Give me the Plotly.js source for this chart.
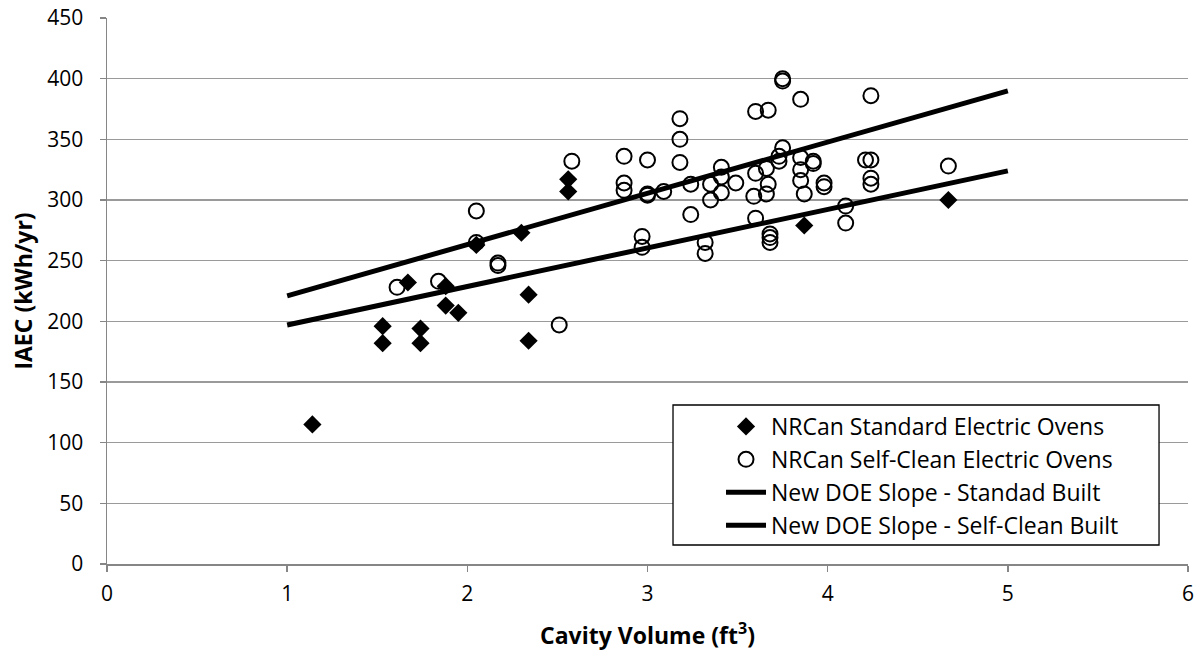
<!DOCTYPE html>
<html>
<head>
<meta charset="utf-8">
<script src="https://cdn.plot.ly/plotly-3.0.1.min.js"></script>
<style>html,body{margin:0;padding:0;background:#fff;}#chart{width:1197px;height:654px;}</style>
</head>
<body>
<div id="chart"></div>
<script>
// NRCan Standard Electric Ovens
const stdVolume = [1.14, 1.53, 1.53, 1.67, 1.74, 1.74, 1.88, 1.88, 1.95, 2.05, 2.30, 2.34, 2.34, 2.56, 2.56, 3.87, 4.67];
const stdIAEC   = [115, 196, 182, 232, 194, 182, 229, 213, 207, 263, 273, 222, 184, 317, 307, 279, 300];

// NRCan Self-Clean Electric Ovens
const scVolume = [1.61, 1.84, 2.05, 2.05, 2.17, 2.17, 2.51, 2.58,
  2.87, 2.87, 2.87, 3.00, 3.00, 3.00, 2.97, 2.97, 3.09,
  3.18, 3.18, 3.18, 3.24, 3.24, 3.32, 3.32, 3.35, 3.35,
  3.41, 3.41, 3.41, 3.49, 3.59, 3.60, 3.60, 3.60, 3.67, 3.66, 3.67, 3.66,
  3.68, 3.68, 3.68, 3.75, 3.75, 3.75, 3.73, 3.73,
  3.85, 3.85, 3.85, 3.85, 3.87, 3.92, 3.92, 3.98, 3.98,
  4.10, 4.10, 4.21, 4.24, 4.24, 4.24, 4.24, 4.67];
const scIAEC = [228, 233, 291, 265, 248, 246, 197, 332,
  336, 314, 308, 333, 305, 304, 270, 261, 307,
  367, 350, 331, 313, 288, 265, 256, 313, 300,
  327, 319, 306, 314, 303, 373, 322, 285, 374, 326, 313, 305,
  272, 269, 265, 400, 398, 343, 336, 332,
  383, 335, 325, 316, 305, 332, 330, 314, 311,
  295, 281, 333, 386, 333, 318, 313, 328];

// DOE slope lines
const lineVolume = [1, 5];
const stdBuiltIAEC = [221, 390];
const scBuiltIAEC  = [197, 324];

const FONT = '"Open Sans", "Noto Sans", sans-serif';

const traces = [
  {x: stdVolume, y: stdIAEC, type: 'scatter', mode: 'markers', name: 'NRCan Standard Electric Ovens',
   marker: {symbol: 'diamond', size: 14, color: '#000', line: {width: 0}}},
  {x: scVolume, y: scIAEC, type: 'scatter', mode: 'markers', name: 'NRCan Self-Clean Electric Ovens',
   marker: {symbol: 'circle-open', size: 15, color: '#000', line: {width: 2, color: '#000'}}},
  {x: lineVolume, y: stdBuiltIAEC, type: 'scatter', mode: 'lines', name: 'New DOE Slope - Standad Built',
   line: {color: '#000', width: 5}},
  {x: lineVolume, y: scBuiltIAEC, type: 'scatter', mode: 'lines', name: 'New DOE Slope - Self-Clean Built',
   line: {color: '#000', width: 5}}
];

const layout = {
  width: 1197, height: 654,
  margin: {l: 107, r: 9, t: 18, b: 90},
  paper_bgcolor: '#fff', plot_bgcolor: '#fff',
  font: {family: FONT, size: 21, color: '#000'},
  showlegend: true,
  xaxis: {
    range: [0, 6], dtick: 1, tick0: 0, showgrid: false, zeroline: false,
    showline: true, linecolor: '#868686', linewidth: 1.5,
    ticks: 'outside', ticklen: 6, tickcolor: '#868686', tickwidth: 1.5,
    ticklabelstandoff: 4,
    tickfont: {family: FONT, size: 21, color: '#000'},
    title: {text: '<b>Cavity Volume (ft<sup>3</sup>)</b>', font: {family: FONT, size: 23, color: '#000'}, standoff: 22}
  },
  yaxis: {
    range: [0, 450], dtick: 50, tick0: 0, showgrid: true, gridcolor: '#9a9a9a', gridwidth: 1.5,
    zeroline: false, showline: true, linecolor: '#868686', linewidth: 1.5,
    ticks: 'outside', ticklen: 6, tickcolor: '#868686', tickwidth: 1.5,
    ticklabelstandoff: 12,
    tickfont: {family: FONT, size: 21, color: '#000'},
    title: {text: '<b>IAEC (kWh/yr)</b>', font: {family: FONT, size: 23, color: '#000'}, standoff: 8}
  },
  shapes: [{
    type: 'rect', xref: 'paper', yref: 'paper', layer: 'above',
    x0: 0.5236, x1: 0.9732, y0: 0.0348, y1: 0.2912,
    fillcolor: '#fff', line: {color: '#000', width: 1.3}
  }],
  legend: {
    x: 0.568, y: 0.2912, xanchor: 'left', yanchor: 'top',
    bgcolor: 'rgba(0,0,0,0)', borderwidth: 0,
    font: {family: FONT, size: 23, color: '#000'},
    tracegroupgap: 0, itemwidth: 40
  }
};

Plotly.newPlot('chart', traces, layout, {displayModeBar: false, staticPlot: true});
</script>
</body>
</html>
